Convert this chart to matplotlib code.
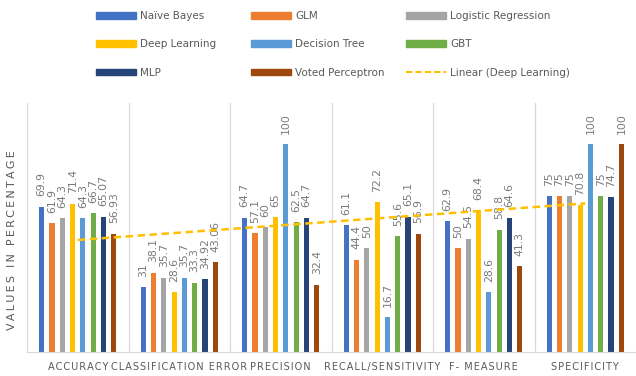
import numpy as np
import matplotlib
matplotlib.use("Agg")
import matplotlib.pyplot as plt
from matplotlib.patches import Patch
from matplotlib.lines import Line2D

categories = ["ACCURACY", "CLASSIFICATION ERROR", "PRECISION",
              "RECALL/SENSITIVITY", "F- MEASURE", "SPECIFICITY"]
series_names = ["Naïve Bayes", "GLM", "Logistic Regression", "Deep Learning",
                "Decision Tree", "GBT", "MLP", "Voted Perceptron"]
naive_bayes = [69.9, 31, 64.7, 61.1, 62.9, 75]
glm = [61.9, 38.1, 57.1, 44.4, 50, 75]
logistic = [64.3, 35.7, 60, 50, 54.5, 75]
deep_learning = [71.4, 28.6, 65, 72.2, 68.4, 70.8]
decision_tree = [64.3, 35.7, 100, 16.7, 28.6, 100]
gbt = [66.7, 33.3, 62.5, 55.6, 58.8, 75]
mlp = [65.07, 34.92, 64.7, 65.1, 64.6, 74.7]
voted_perceptron = [56.93, 43.06, 32.4, 56.9, 41.3, 100]
label_text = [
    ["69.9", "31", "64.7", "61.1", "62.9", "75"],
    ["61.9", "38.1", "57.1", "44.4", "50", "75"],
    ["64.3", "35.7", "60", "50", "54.5", "75"],
    ["71.4", "28.6", "65", "72.2", "68.4", "70.8"],
    ["64.3", "35.7", "100", "16.7", "28.6", "100"],
    ["66.7", "33.3", "62.5", "55.6", "58.8", "75"],
    ["65.07", "34.92", "64.7", "65.1", "64.6", "74.7"],
    ["56.93", "43.06", "32.4", "56.9", "41.3", "100"],
]
series_values = [naive_bayes, glm, logistic, deep_learning, decision_tree,
                 gbt, mlp, voted_perceptron]
colors = ["#4472C4", "#ED7D31", "#A5A5A5", "#FFC000", "#5B9BD5",
          "#70AD47", "#264478", "#9E480E"]
trend_color = "#FFC000"
text_gray = "#595959"
label_gray = "#7a7a7a"


def spaced(s, sp="\u200a"):
    return sp.join(s)


fig = plt.figure(figsize=(6.36, 3.76), dpi=100)
ax = fig.add_axes([27/636, 1-351.7/376, 609/636, (351.7-103)/376])

x = np.arange(1, len(categories)+1)
n = len(series_values)
slot = 0.1015
width = 0.05
for i, (vals, c) in enumerate(zip(series_values, colors)):
    pos = x + (i - (n-1)/2) * slot
    ax.bar(pos, vals, width=width, color=c, zorder=2)
    for px, v, t in zip(pos, vals, label_text[i]):
        ax.text(px, v + 5.0, t, rotation=90, ha="center", va="bottom",
                fontsize=7.8, color=label_gray, zorder=4)

# linear trendline of Deep Learning
coef = np.polyfit(x, deep_learning, 1)
xt = np.array([x[0], x[-1]])
ax.plot(xt, np.polyval(coef, xt), color=trend_color, lw=1.8,
        ls=(0, (3, 1.8)), zorder=5)

ax.set_xlim(0.5, 6.5)
ax.set_ylim(0, 120)
for b in np.arange(0.5, 6.0, 1.0):
    ax.axvline(b, color="#d9d9d9", lw=0.9, zorder=1)
for s in ["top", "right", "left"]:
    ax.spines[s].set_visible(False)
ax.spines["bottom"].set_color("#d9d9d9")
ax.set_yticks([])
ax.set_xticks(x)
ax.set_xticklabels([spaced(c) for c in categories], fontsize=7.0,
                   color=text_gray)
ax.tick_params(axis="x", length=0, pad=7.5)

fig.text(12/636, 1-240/376, spaced("VALUES IN PERCENTAGE", "\u2009"),
         rotation=90, ha="center", va="center", fontsize=8, color=text_gray)

# legend in three columns
handles = [Patch(color=c) for c in colors] + \
    [Line2D([0], [0], color=trend_color, lw=1.5, ls=(0, (3, 1.5)))]
labels = series_names + ["Linear (Deep Learning)"]
col_x = [91/636, 246/636, 401/636]
for ci in range(3):
    idx = [ci, ci+3, ci+6]
    leg = fig.legend([handles[k] for k in idx], [labels[k] for k in idx],
                     loc="upper left", bbox_to_anchor=(col_x[ci], 1 - 6/376),
                     frameon=False, fontsize=7.5, handlelength=3.8,
                     handleheight=0.6, handletextpad=0.4, labelspacing=1.75,
                     borderaxespad=0.3, borderpad=0.2)
    for t in leg.get_texts():
        t.set_color(text_gray)

fig.savefig("out.png", dpi=100)
